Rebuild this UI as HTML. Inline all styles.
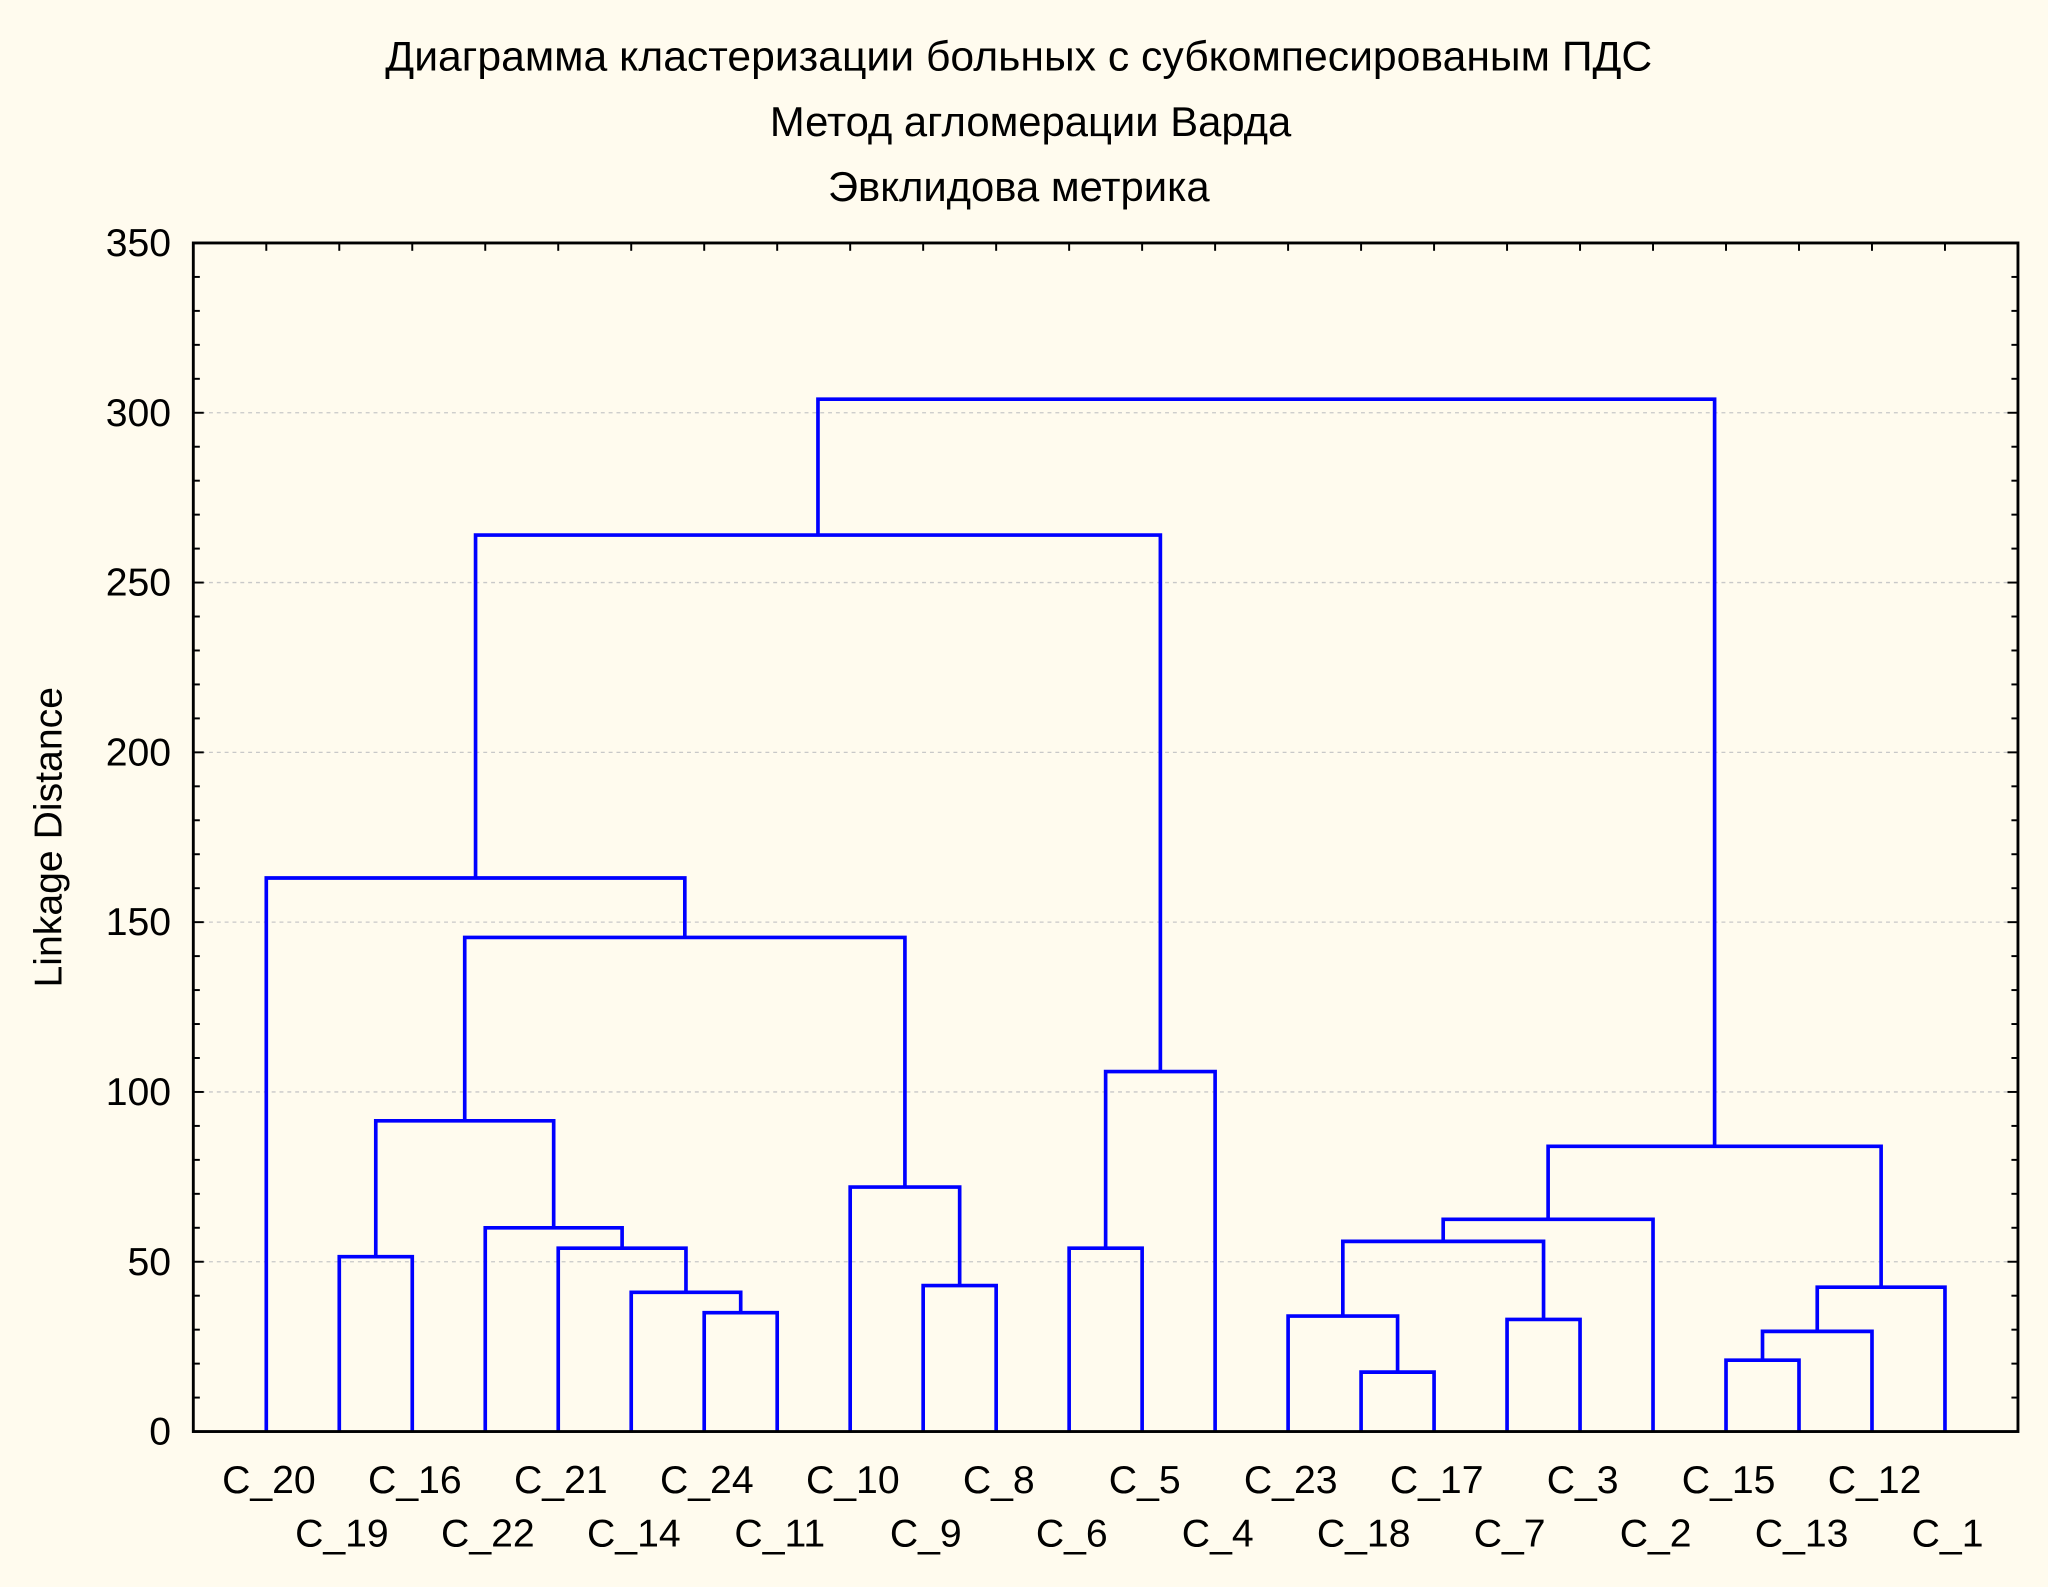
<!DOCTYPE html>
<html><head><meta charset="utf-8"><style>
html,body{margin:0;padding:0;background:#fffcf0;}
svg{display:block;}
text{font-family:"Liberation Sans",Arial,sans-serif;fill:#000;}
</style></head><body>
<svg id="chart" width="2048" height="1587" viewBox="0 0 1568 1215" xmlns="http://www.w3.org/2000/svg">
<rect x="0" y="0" width="1568" height="1215" fill="#fffbee"/>
<g text-anchor="middle">
<text x="780" y="54" font-size="32" textLength="970" lengthAdjust="spacingAndGlyphs">Диаграмма кластеризации больных с субкомпесированым ПДС</text>
<text x="789" y="104" font-size="32">Метод агломерации Варда</text>
<text x="780" y="154" font-size="32">Эвклидова метрика</text>
</g>
<text x="0" y="0" font-size="30" text-anchor="middle" transform="translate(47,641) rotate(-90)">Linkage Distance</text>
<g id="grid"></g>
<g id="ticks"></g>
<g id="links"></g>
<rect x="148" y="186" width="1397" height="910" fill="none" stroke="#000" stroke-width="2.2"/>
<g id="labels"></g>
<g id="ylabels"></g>
</svg>
<script>
const leaves = ["C_20","C_19","C_16","C_22","C_21","C_14","C_24","C_11","C_10","C_9","C_8","C_6","C_5","C_4","C_23","C_18","C_17","C_7","C_3","C_2","C_15","C_13","C_12","C_1"];
const merges = [
 ["L1","L2",51.5],
 ["L6","L7",35],
 ["L5","M1",41],
 ["L4","M2",54],
 ["L3","M3",60],
 ["M0","M4",91.5],
 ["L9","L10",43],
 ["L8","M6",72],
 ["M5","M7",145.5],
 ["L0","M8",163],
 ["L11","L12",54],
 ["M10","L13",106],
 ["M9","M11",264],
 ["L15","L16",17.5],
 ["L14","M13",34],
 ["L17","L18",33],
 ["M14","M15",56],
 ["M16","L19",62.5],
 ["L20","L21",21],
 ["M18","L22",29.5],
 ["M19","L23",42.5],
 ["M17","M20",84],
 ["M12","M21",304]
];
const yTicks = [0,50,100,150,200,250,300,350];
const NS="http://www.w3.org/2000/svg";
const X0=148,X1=1545,Y0=1096,Y1=186,YMAX=350;
const xs = i => X0 + (i+1)*(X1-X0)/(leaves.length+1);
const ys = v => Y0 - v*(Y0-Y1)/YMAX;
function mk(tag,attrs,parent){const e=document.createElementNS(NS,tag);for(const k in attrs)e.setAttribute(k,attrs[k]);parent.appendChild(e);return e;}
const grid=document.getElementById('grid'),ticks=document.getElementById('ticks'),links=document.getElementById('links'),labels=document.getElementById('labels'),yl=document.getElementById('ylabels');
yTicks.forEach(t=>{
 if(t>0&&t<YMAX){const g=mk('line',{x1:X0,x2:X1,y1:ys(t),y2:ys(t),stroke:'#c8c8c8','stroke-width':1,'stroke-dasharray':'3,3'},grid);
 
 }
 const tx=mk('text',{x:131,y:ys(t)+10,'font-size':30,'text-anchor':'end'},yl);tx.textContent=t;
 
 
});
for(let v=0;v<=YMAX;v+=10){
 const len=(v%50===0)?8:5;
 mk('line',{x1:X0,x2:X0+len,y1:ys(v),y2:ys(v),stroke:'#000','stroke-width':1.5},ticks);
 mk('line',{x1:X1,x2:X1-len,y1:ys(v),y2:ys(v),stroke:'#000','stroke-width':1.5},ticks);
}
leaves.forEach((n,i)=>{
 mk('line',{x1:xs(i),x2:xs(i),y1:Y1,y2:Y1+6,stroke:'#000','stroke-width':1.5},ticks);
 mk('line',{x1:xs(i),x2:xs(i),y1:Y0,y2:Y0-6,stroke:'#000','stroke-width':1.5},ticks);
 const t=mk('text',{x:xs(i)+2,y:(i%2===0)?1143:1184,'font-size':30,'text-anchor':'middle'},labels);
 t.textContent=n;
 
 
});
const cl=[];
function pos(r){if(r[0]==='L'){const i=+r.slice(1);return {x:xs(i),h:0};}return cl[+r.slice(1)];}
merges.forEach((m,j)=>{
 const a=pos(m[0]),b=pos(m[1]),h=m[2];
 const p=mk('path',{d:`M${a.x},${ys(a.h)}V${ys(h)}H${b.x}V${ys(b.h)}`,fill:'none',stroke:'#0000ff','stroke-width':2.8},links);
 
 
 cl.push({x:(a.x+b.x)/2,h:h});
});
</script>
</body></html>
